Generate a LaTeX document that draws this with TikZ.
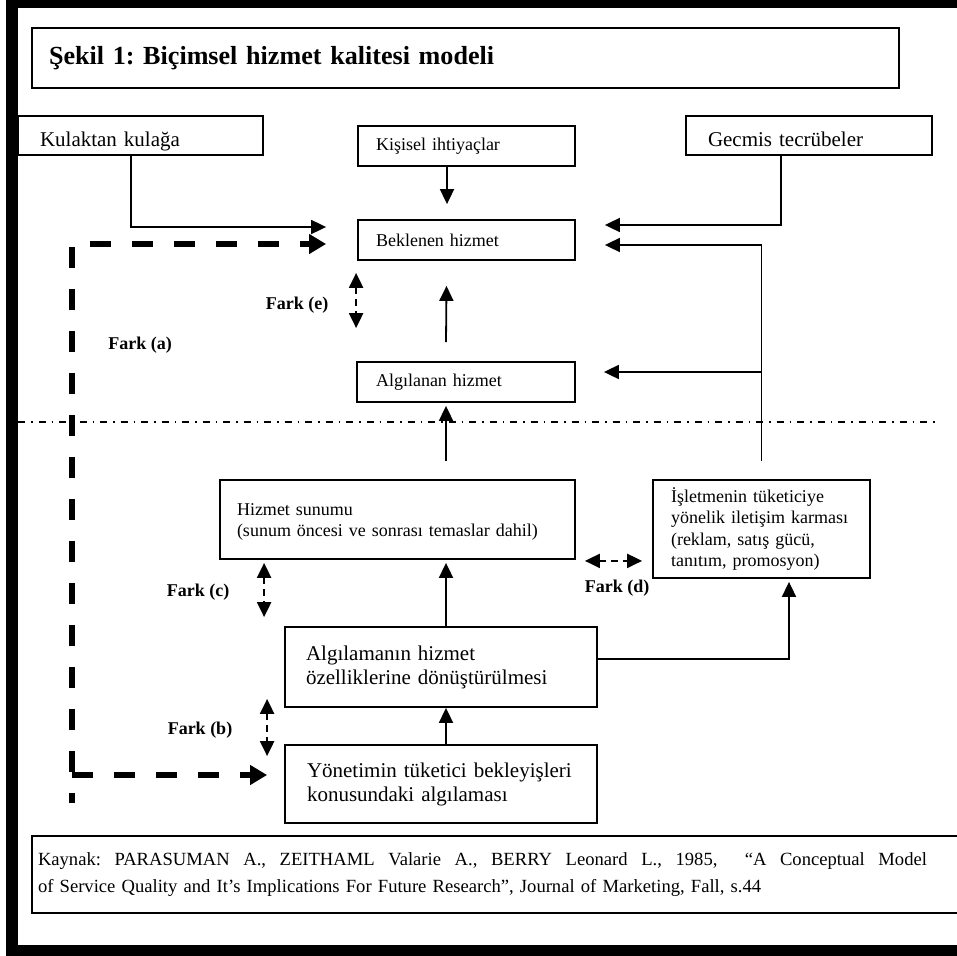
\documentclass[tikz,border=0pt]{standalone}
\usepackage{fontspec}
\setmainfont{Liberation Serif}
\frenchspacing
\usetikzlibrary{arrows.meta, positioning}

\begin{document}
\begin{tikzpicture}[x=1pt, y=-1pt,
    modelbox/.style={draw, rectangle, line width=1.8pt, inner ysep=0pt, align=left,
      font=\fontsize{18}{21.5}\selectfont},
    bigbox/.style={modelbox, font=\fontsize{21}{24}\selectfont},
    lowtext/.style={bigbox, text height=24pt, text depth=3pt},
    flowarrow/.style={draw, line width=1.8pt, -{Triangle[length=15pt, width=14pt]}},
    gaparrow/.style={draw, line width=2.2pt, dash pattern=on 7pt off 5pt,
      {Triangle[length=15pt, width=14pt]}-{Triangle[length=15pt, width=14pt]}},
    feedback/.style={draw, line width=6pt, dash pattern=on 21pt off 21pt,
      -{Triangle[length=17pt, width=19pt]}},
    fark/.style={font=\bfseries\fontsize{18}{20}\selectfont}]
  \useasboundingbox (0,0) rectangle (957,955);
  \fill[black] (6,-5) rectangle (970,965);
  \fill[white] (18,8) rectangle (970,945);

  \node[modelbox, text width=833pt, inner xsep=17pt, minimum height=60pt,
    font=\bfseries\fontsize{26.1}{30}\selectfont] (title) at (465.5,58) {Şekil 1: Biçimsel hizmet kalitesi modeli};

  \node[lowtext, text width=201pt, inner xsep=22pt, minimum height=39pt] (kulak) at (140.5,135.5) {Kulaktan kulağa};
  \node[modelbox, text width=181pt, inner xsep=18pt, minimum height=40pt] (kisisel) at (466.5,146) {Kişisel ihtiyaçlar};
  \node[lowtext, text width=202pt, inner xsep=22pt, minimum height=39pt] (gecmis) at (809,135.5) {Gecmis tecrübeler};
  \node[modelbox, text width=181pt, inner xsep=18pt, minimum height=40pt] (beklenen) at (466.5,240) {Beklenen hizmet};
  \node[modelbox, text width=180pt, inner xsep=19pt, minimum height=40pt] (algilanan) at (466,382) {Algılanan hizmet};
  \node[modelbox, text width=321pt, inner xsep=17pt, minimum height=79pt, text depth=20pt] (sunum) at (397.5,519.5) {Hizmet sunumu\\(sunum öncesi ve sonrası temaslar dahil)};
  \node[modelbox, text width=181pt, inner xsep=18pt, minimum height=98pt] (iletisim) at (761.5,529) {İşletmenin tüketiciye\\yönelik iletişim karması\\(reklam, satış gücü,\\tanıtım, promosyon)};
  \node[bigbox, text width=270pt, inner xsep=21pt, minimum height=80pt] (donusum) at (441,667) {Algılamanın hizmet\\özelliklerine dönüştürülmesi};
  \node[bigbox, text width=268pt, inner xsep=22pt, minimum height=78pt] (yonetim) at (441,784) {Yönetimin tüketici bekleyişleri\\konusundaki algılaması};
  \node[bigbox, text width=928pt, inner xsep=6pt, minimum height=77pt, font=\fontsize{18.6}{27}\selectfont] (kaynak) at (502,874.5) {\makebox[889pt][s]{\spaceskip=.25em plus 1em\relax Kaynak: PARASUMAN A., ZEITHAML Valarie A., BERRY Leonard L., 1985,\ \ “A Conceptual Model}\\of Service Quality and It’s Implications For Future Research”, Journal of Marketing, Fall, s.44};

  \node[fark] (farke) at (297,305) {Fark (e)};
  \node[fark] (farka) at (140,345) {Fark (a)};
  \node[fark] (farkc) at (198,592) {Fark (c)};
  \node[fark] (farkb) at (200,730) {Fark (b)};
  \node[fark] (farkd) at (617,588) {Fark (d)};

  \coordinate (sepl) at (18,422);
  \coordinate (sepr) at (938,422);
  \coordinate (split) at (761.5,372);
  \coordinate (corner) at (72,803);
  \coordinate (cornerb) at (72,775);

  \draw[line width=1.3pt, dash pattern=on 7pt off 6pt on 1.5pt off 6pt] (sepl) -- (sepr);

  \draw[flowarrow] ([xshift=-9.5pt]kulak.south) |- ([yshift=13pt, xshift=-31pt]beklenen.west);
  \draw[flowarrow] ([xshift=-19.5pt]kisisel.south) -- ([xshift=-19.5pt, yshift=15pt]beklenen.north);
  \draw[flowarrow] ([xshift=-28pt]gecmis.south) |- ([yshift=15pt, xshift=29pt]beklenen.east);

  \draw[flowarrow] ([xshift=-20pt, yshift=19pt]algilanan.north) -- ([xshift=-20pt, yshift=-25pt]beklenen.south);
  \draw[flowarrow] ([xshift=48.5pt, yshift=18pt]sunum.north) -- ([xshift=-20pt, yshift=-3pt]algilanan.south);
  \draw[flowarrow] ([xshift=5pt]donusum.north) -- ([xshift=48.5pt, yshift=-3pt]sunum.south);
  \draw[flowarrow] ([xshift=5pt]yonetim.north) -- ([xshift=5pt]donusum.south);

  \draw[flowarrow] ([yshift=18pt]iletisim.north) |- ([yshift=-5pt, xshift=29pt]beklenen.east);
  \draw[flowarrow] (split) -- ([yshift=10pt, xshift=28pt]algilanan.east);
  \draw[flowarrow] ([yshift=8pt]donusum.east) -| ([xshift=27.5pt, yshift=-3pt]iletisim.south);

  % feedback from management
  \draw[feedback, dash phase=11pt] (corner) |- ([yshift=-4pt, xshift=-31pt]beklenen.west);
  \draw[feedback] (cornerb) -- ([yshift=9pt, xshift=-17pt]yonetim.west);

  % gaps
  \draw[gaparrow] ([xshift=-1pt, yshift=-12pt]beklenen.south west) -- ([yshift=33pt]algilanan.north west);
  \draw[gaparrow] ([xshift=45pt, yshift=-3pt]sunum.south west) -- ([xshift=-20pt, yshift=9pt]donusum.north west);
  \draw[gaparrow] ([xshift=-17pt, yshift=9pt]donusum.south west) -- ([xshift=-17pt, yshift=-12pt]yonetim.north west);
  \draw[gaparrow] ([xshift=9pt, yshift=-1pt]sunum.south east) -- ([xshift=-10pt, yshift=18pt]iletisim.south west);
\end{tikzpicture}
\end{document}
